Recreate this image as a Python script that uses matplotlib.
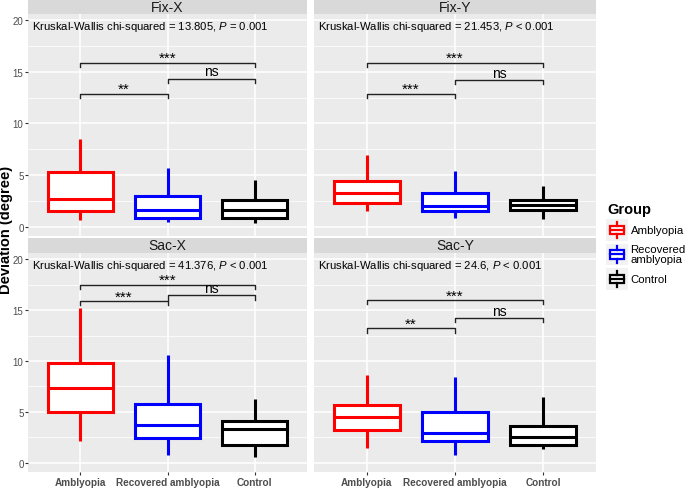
import matplotlib
matplotlib.use("Agg")
import matplotlib.pyplot as plt
from matplotlib.legend_handler import HandlerBase
from matplotlib.patches import Rectangle
from matplotlib.lines import Line2D

plt.rcParams['font.family'] = ['Liberation Sans', 'DejaVu Sans']
plt.rcParams['mathtext.fontset'] = 'custom'
plt.rcParams['mathtext.it'] = 'Liberation Sans:italic'
plt.rcParams['mathtext.rm'] = 'Liberation Sans'

groups = ["Amblyopia", "Recovered amblyopia", "Control"]
legend_labels = ["Amblyopia", "Recovered\namblyopia", "Control"]
colors = ["#FF0000", "#0000FF", "#000000"]
panels = ["Fix-X", "Fix-Y", "Sac-X", "Sac-Y"]

# per panel: [Amblyopia, Recovered, Control]
whislo = {"Fix-X": [0.68, 0.42, 0.32], "Fix-Y": [1.48, 0.84, 0.74],
          "Sac-X": [2.1, 0.8, 0.58], "Sac-Y": [1.45, 0.77, 1.35]}
q1 = {"Fix-X": [1.48, 0.81, 0.87], "Fix-Y": [2.26, 1.52, 1.65],
      "Sac-X": [5.0, 2.48, 1.77], "Sac-Y": [3.23, 2.1, 1.74]}
med = {"Fix-X": [2.65, 1.61, 1.61], "Fix-Y": [3.23, 1.97, 2.1],
       "Sac-X": [7.39, 3.74, 3.35], "Sac-Y": [4.5, 2.97, 2.52]}
q3 = {"Fix-X": [5.32, 2.97, 2.58], "Fix-Y": [4.45, 3.23, 2.58],
      "Sac-X": [9.8, 5.77, 4.13], "Sac-Y": [5.65, 5.0, 3.65]}
whishi = {"Fix-X": [8.48, 5.65, 4.5], "Fix-Y": [6.94, 5.42, 3.97],
          "Sac-X": [15.23, 10.55, 6.29], "Sac-Y": [8.6, 8.4, 6.45]}

kw_text = {"Fix-X": ("13.805", "= 0.001"), "Fix-Y": ("21.453", "< 0.001"),
           "Sac-X": ("41.376", "< 0.001"), "Sac-Y": ("24.6", "< 0.001")}

# brackets: pairs (1-2), (2-3), (1-3)
pairs = [(1, 2), (2, 3), (1, 3)]
bracket_y = {"Fix-X": [12.9, 14.35, 15.9], "Fix-Y": [12.9, 14.2, 15.9],
             "Sac-X": [15.87, 16.45, 17.5], "Sac-Y": [13.2, 14.2, 15.97]}
bracket_lab = {"Fix-X": ["**", "ns", "***"], "Fix-Y": ["***", "ns", "***"],
               "Sac-X": ["***", "ns", "***"], "Sac-Y": ["**", "ns", "***"]}

W, H = 685, 489
fig = plt.figure(figsize=(W / 100, H / 100), dpi=100)

def fx(px):
    return px / W

def fy(py):
    return 1 - py / H

layout = {
    "Fix-X": (28, 307, 15, 237),
    "Fix-Y": (314, 596, 15, 237),
    "Sac-X": (28, 307, 254, 473),
    "Sac-Y": (314, 596, 254, 473),
}

for name in panels:
    x0, x1, y0, y1 = layout[name]
    ax = fig.add_axes([fx(x0), fy(y1), fx(x1 - x0), (y1 - y0) / H])
    ax.set_facecolor("#EBEBEB")
    for s in ax.spines.values():
        s.set_visible(False)
    ax.set_xlim(0.4, 3.6)
    ax.set_ylim(-0.9, 20.6)
    ax.set_yticks([0, 5, 10, 15, 20])
    ax.set_yticks([2.5, 7.5, 12.5, 17.5], minor=True)
    ax.set_xticks([1, 2, 3])
    ax.grid(True, which="major", color="white", lw=1.1)
    ax.grid(True, which="minor", axis="y", color="white", lw=0.55)
    ax.set_axisbelow(True)
    ax.tick_params(axis="both", which="major", length=2.0, width=0.8,
                   color="#333333", labelsize=7, labelcolor="#4D4D4D", pad=1.2)
    ax.tick_params(which="minor", length=0)
    bottom = name.startswith("Sac")
    left = name.endswith("X")
    if bottom:
        ax.set_xticklabels(groups, fontweight="bold", fontsize=7.2, color="#4D4D4D")
        ax.tick_params(axis="x", pad=1.5)
    else:
        ax.set_xticklabels([])
        ax.tick_params(axis="x", length=0)
    if not left:
        ax.set_yticklabels([])
        ax.tick_params(axis="y", length=0)

    stats = []
    for i in range(3):
        stats.append(dict(med=med[name][i], q1=q1[name][i], q3=q3[name][i],
                          whislo=whislo[name][i], whishi=whishi[name][i], fliers=[]))
    for i in range(3):
        ax.bxp([stats[i]], positions=[i + 1], widths=0.75, patch_artist=True,
               showcaps=False,
               boxprops=dict(facecolor="white", edgecolor=colors[i], lw=2.2),
               medianprops=dict(color=colors[i], lw=2.2, solid_capstyle="butt"),
               whiskerprops=dict(color=colors[i], lw=2.2, solid_capstyle="butt"),
               manage_ticks=False)

    for (a, b), yb, lab in zip(pairs, bracket_y[name], bracket_lab[name]):
        ax.plot([a, a, b, b], [yb - 0.42, yb, yb, yb - 0.42], color="#222222", lw=1.0)
        if lab == "ns":
            ax.text((a + b) / 2, yb + 0.05, lab, ha="center", va="bottom", fontsize=10)
        else:
            ax.text((a + b) / 2, yb - 0.25, lab, ha="center", va="bottom", fontsize=11)

    chi, pv = kw_text[name]
    ax.text(0.45, 19.4, "Kruskal-Wallis chi-squared = " + chi + ", $\\mathit{P}$ " + pv,
            ha="left", va="center", fontsize=8.1)

    # strip
    sax = fig.add_axes([fx(x0), fy(y0), fx(x1 - x0), 15 / H])
    sax.set_facecolor("#D9D9D9")
    sax.set_xticks([]); sax.set_yticks([])
    for s in sax.spines.values():
        s.set_visible(False)
    sax.text(0.5, 0.5, name, ha="center", va="center", fontsize=10, color="#1A1A1A",
             transform=sax.transAxes)

fig.text(fx(6.5), fy(230), "Deviation (degree)", rotation=90, ha="center", va="center",
         fontsize=10.5, fontweight="bold")


class BoxHandler(HandlerBase):
    def create_artists(self, legend, orig_handle, xdescent, ydescent, width, height,
                       fontsize, trans):
        c = orig_handle.get_color()
        bg = Rectangle((-xdescent, -ydescent), width, height, facecolor="#F2F2F2",
                       edgecolor="none", transform=trans)
        bw = width * 0.62
        bx = -xdescent + (width - bw) / 2
        by = -ydescent + height * 0.3
        bh = height * 0.4
        box = Rectangle((bx, by), bw, bh, facecolor="white", edgecolor=c, lw=1.6,
                        transform=trans)
        xm = -xdescent + width / 2
        m = Line2D([bx, bx + bw], [by + bh / 2] * 2, color=c, lw=1.6, transform=trans)
        w1 = Line2D([xm, xm], [-ydescent + height * 0.12, by], color=c, lw=1.6, transform=trans)
        w2 = Line2D([xm, xm], [by + bh, -ydescent + height * 0.88], color=c, lw=1.6,
                    transform=trans)
        return [bg, box, m, w1, w2]


handles = [Line2D([], [], color=c) for c in colors]
leg = fig.legend(handles, legend_labels, handler_map={Line2D: BoxHandler()},
                 loc="upper left", bbox_to_anchor=(fx(606), fy(220)), frameon=False,
                 fontsize=8.2, handlelength=1.95, handleheight=2.55,
                 handletextpad=0.2, labelspacing=0.25, borderpad=0, borderaxespad=0)
for t in leg.get_texts():
    t.set_linespacing(0.95)
fig.text(fx(607), fy(210), "Group", ha="left", va="center", fontsize=10.5,
         fontweight="bold")

fig.savefig("out.png", dpi=100)
